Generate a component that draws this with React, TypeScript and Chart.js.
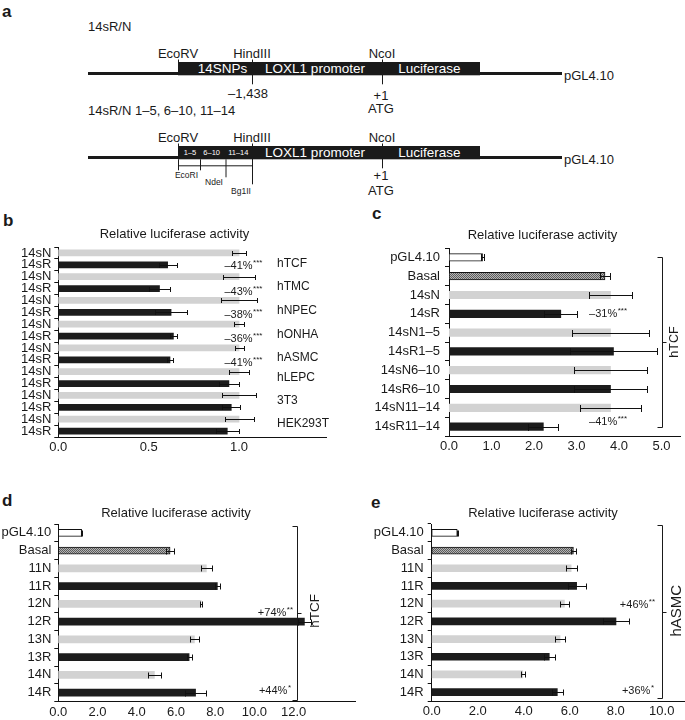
import React, { useEffect, useRef } from 'react';
import { Chart, registerables } from 'chart.js';

Chart.register(...registerables);

const FONT = "'Liberation Sans', Arial, Helvetica, sans-serif";
const INK = '#1a1a1a';
const GRAY = '#d2d2d2';
const BLACK = '#1c1c1c';

type Kind = 'empty' | 'basal' | 'N' | 'R';

// ---------------- Panel b data ----------------
const bCategories = ['14sN', '14sR', '14sN', '14sR', '14sN', '14sR', '14sN', '14sR', '14sN', '14sR', '14sN', '14sR', '14sN', '14sR', '14sN', '14sR'];
const bKinds: Kind[] = ['N', 'R', 'N', 'R', 'N', 'R', 'N', 'R', 'N', 'R', 'N', 'R', 'N', 'R', 'N', 'R'];
const bValues = [1.0, 0.605, 1.0, 0.56, 1.0, 0.624, 1.0, 0.637, 1.0, 0.618, 1.0, 0.944, 1.0, 0.957, 1.0, 0.935];
const bErrors = [0.037, 0.05, 0.09, 0.06, 0.1, 0.09, 0.03, 0.02, 0.025, 0.015, 0.055, 0.055, 0.095, 0.05, 0.08, 0.065];
const bCells = ['hTCF', 'hTMC', 'hNPEC', 'hONHA', 'hASMC', 'hLEPC', '3T3', 'HEK293T'];
const bChanges = ['–41%', '–43%', '–38%', '–36%', '–41%'];
const bStars = ['***', '***', '***', '***', '***'];
const bTicks = [0, 0.5, 1.0];

// ---------------- Panel c data ----------------
const cCategories = ['pGL4.10', 'Basal', '14sN', '14sR', '14sN1–5', '14sR1–5', '14sN6–10', '14sR6–10', '14sN11–14', '14sR11–14'];
const cKinds: Kind[] = ['empty', 'basal', 'N', 'R', 'N', 'R', 'N', 'R', 'N', 'R'];
const cValues = [0.79, 3.67, 3.8, 2.63, 3.8, 3.87, 3.8, 3.8, 3.8, 2.22];
const cErrors = [0.03, 0.11, 0.5, 0.39, 0.9, 1.02, 0.87, 0.86, 0.72, 0.35];
const cChanges = ['–31%', '–41%'];
const cStars = ['***', '***'];
const cTicks = [0, 1, 2, 3, 4, 5];

// ---------------- Panel d data ----------------
const dCategories = ['pGL4.10', 'Basal', '11N', '11R', '12N', '12R', '13N', '13R', '14N', '14R'];
const dKinds: Kind[] = ['empty', 'basal', 'N', 'R', 'N', 'R', 'N', 'R', 'N', 'R'];
const dValues = [1.19, 5.7, 7.55, 8.11, 7.28, 12.55, 6.94, 6.67, 4.9, 7.0];
const dErrors = [0.03, 0.2, 0.29, 0.14, 0.05, 0.35, 0.21, 0.13, 0.34, 0.52];
const dChanges = ['+74%', '+44%'];
const dStars = ['**', '*'];
const dTicks = [0, 2, 4, 6, 8, 10, 12];

// ---------------- Panel e data ----------------
const eCategories = ['pGL4.10', 'Basal', '11N', '11R', '12N', '12R', '13N', '13R', '14N', '14R'];
const eKinds: Kind[] = ['empty', 'basal', 'N', 'R', 'N', 'R', 'N', 'R', 'N', 'R'];
const eValues = [1.11, 6.16, 6.06, 6.3, 5.77, 8.01, 5.58, 5.11, 3.96, 5.46];
const eErrors = [0.03, 0.11, 0.24, 0.39, 0.18, 0.57, 0.22, 0.25, 0.1, 0.23];
const eChanges = ['+46%', '+36%'];
const eStars = ['**', '*'];
const eTicks = [0, 2, 4, 6, 8, 10];

const TITLE = 'Relative luciferase activity';

// ---------------- helpers ----------------
function basalPattern(): CanvasPattern | string {
  const c = document.createElement('canvas');
  c.width = 2;
  c.height = 2;
  const g = c.getContext('2d');
  if (!g) return '#8a8a8a';
  g.fillStyle = '#b4b4b4';
  g.fillRect(0, 0, 2, 2);
  g.fillStyle = '#5c5c5c';
  g.fillRect(0, 0, 1, 1);
  g.fillRect(1, 1, 1, 1);
  const ctx = document.createElement('canvas').getContext('2d');
  return (ctx && ctx.createPattern(c, 'repeat')) || '#8a8a8a';
}

function drawChange(ctx: CanvasRenderingContext2D, text: string, stars: string, x: number, y: number, align: 'left' | 'right') {
  ctx.save();
  ctx.fillStyle = INK;
  ctx.textBaseline = 'middle';
  ctx.textAlign = 'left';
  ctx.font = `11px ${FONT}`;
  const w1 = ctx.measureText(text).width;
  ctx.font = `8px ${FONT}`;
  const w2 = ctx.measureText(stars).width;
  const x0 = align === 'left' ? x : x - w1 - w2 - 0.5;
  ctx.font = `11px ${FONT}`;
  ctx.fillText(text, x0, y);
  ctx.font = `8px ${FONT}`;
  ctx.fillText(stars, x0 + w1 + 0.5, y - 3);
  ctx.restore();
}

function drawBracket(ctx: CanvasRenderingContext2D, x: number, y1: number, y2: number, ymid: number, label: string, lx: number, ly: number, size: number) {
  ctx.save();
  ctx.strokeStyle = INK;
  ctx.lineWidth = 1;
  const X = Math.round(x) + 0.5;
  ctx.beginPath();
  ctx.moveTo(X - 5, Math.round(y1) + 0.5);
  ctx.lineTo(X, Math.round(y1) + 0.5);
  ctx.lineTo(X, Math.round(y2) + 0.5);
  ctx.lineTo(X - 5, Math.round(y2) + 0.5);
  ctx.moveTo(X, Math.round(ymid) + 0.5);
  ctx.lineTo(X + 4, Math.round(ymid) + 0.5);
  ctx.stroke();
  ctx.translate(lx, ly);
  ctx.rotate(-Math.PI / 2);
  ctx.fillStyle = INK;
  ctx.font = `${size}px ${FONT}`;
  ctx.textAlign = 'center';
  ctx.textBaseline = 'middle';
  ctx.fillText(label, 0, 0);
  ctx.restore();
}

interface PanelSpec {
  left: number;
  top: number;
  width: number;
  height: number;
  area: { left: number; right: number; top: number; bottom: number };
  labels: string[];
  kinds: Kind[];
  values: number[];
  errors: number[];
  xMax: number;
  xTicks: number[];
  barThickness: number;
  cap: number;
  titleX: number;
  titleY: number;
  labelPad: number;
  decorate: (chart: any, ctx: CanvasRenderingContext2D) => void;
}

function BarPanel({ spec }: { spec: PanelSpec }) {
  const ref = useRef<HTMLCanvasElement | null>(null);
  useEffect(() => {
    const canvas = ref.current;
    if (!canvas) return;
    const pattern = basalPattern();
    const xAxisH = 18;
    const fills = spec.kinds.map((k) => (k === 'empty' ? '#ffffff' : k === 'basal' ? pattern : k === 'N' ? GRAY : BLACK));
    const borders = spec.kinds.map((k) => (k === 'empty' || k === 'basal' ? '#111111' : 'rgba(0,0,0,0)'));
    const bw = spec.kinds.map((k) => (k === 'empty' || k === 'basal' ? 1 : 0));

    const errorPlugin = {
      id: 'errbars',
      afterDatasetsDraw(chart: any) {
        const ctx: CanvasRenderingContext2D = chart.ctx;
        const meta = chart.getDatasetMeta(0);
        const xs = chart.scales.x;
        ctx.save();
        ctx.strokeStyle = '#111';
        ctx.lineWidth = 1;
        meta.data.forEach((bar: any, i: number) => {
          const v = spec.values[i];
          const e = spec.errors[i];
          if (!e) return;
          const y = Math.round(bar.y) + 0.5;
          const x1 = Math.round(xs.getPixelForValue(v - e)) + 0.5;
          const x2 = Math.round(xs.getPixelForValue(v + e)) + 0.5;
          ctx.beginPath();
          ctx.moveTo(x1, y);
          ctx.lineTo(x2, y);
          ctx.moveTo(x1, y - spec.cap);
          ctx.lineTo(x1, y + spec.cap);
          ctx.moveTo(x2, y - spec.cap);
          ctx.lineTo(x2, y + spec.cap);
          ctx.stroke();
        });
        ctx.restore();
      },
      afterDraw(chart: any) {
        const ctx: CanvasRenderingContext2D = chart.ctx;
        ctx.save();
        ctx.fillStyle = INK;
        ctx.font = `13px ${FONT}`;
        ctx.textAlign = 'center';
        ctx.textBaseline = 'middle';
        ctx.fillText(TITLE, spec.titleX, spec.titleY);
        ctx.restore();
        spec.decorate(chart, ctx);
      },
    };

    const chart = new Chart(canvas, {
      type: 'bar',
      data: {
        labels: spec.labels,
        datasets: [
          {
            data: spec.values,
            backgroundColor: fills as any,
            borderColor: borders,
            borderWidth: bw,
            borderSkipped: false,
            barThickness: spec.barThickness,
          },
        ],
      },
      options: {
        indexAxis: 'y',
        responsive: false,
        maintainAspectRatio: false,
        animation: false,
        events: [],
        layout: {
          padding: {
            left: 0,
            top: spec.area.top,
            right: spec.width - spec.area.right,
            bottom: spec.height - spec.area.bottom - xAxisH,
          },
        },
        plugins: { legend: { display: false }, tooltip: { enabled: false }, title: { display: false } },
        scales: {
          x: {
            type: 'linear',
            min: 0,
            max: spec.xMax,
            afterFit: (s: any) => {
              s.height = xAxisH;
            },
            afterBuildTicks: (s: any) => {
              s.ticks = spec.xTicks.map((v) => ({ value: v }));
            },
            grid: { display: false, drawTicks: false, tickLength: 0 },
            border: { display: true, color: '#111', width: 1 },
            ticks: {
              color: INK,
              font: { family: FONT, size: 13 },
              padding: 3,
              maxRotation: 0,
              autoSkip: false,
              callback: (v: any) => Number(v).toFixed(1),
            },
          },
          y: {
            type: 'category',
            afterFit: (s: any) => {
              s.width = spec.area.left;
            },
            grid: {
              display: true,
              drawOnChartArea: false,
              drawTicks: true,
              tickLength: 4,
              offset: true,
              color: '#111',
              lineWidth: 1,
            },
            border: { display: true, color: '#111', width: 1 },
            ticks: {
              color: INK,
              font: { family: FONT, size: 13 },
              padding: spec.labelPad,
              autoSkip: false,
            },
          },
        },
      } as any,
      plugins: [errorPlugin],
    });
    return () => chart.destroy();
  }, [spec]);
  return (
    <canvas
      ref={ref}
      width={spec.width}
      height={spec.height}
      style={{ position: 'absolute', left: spec.left, top: spec.top, width: spec.width, height: spec.height }}
    />
  );
}

// ---------------- panel specs ----------------
const bCellRows = [0.94, 2.88, 4.86, 6.86, 8.86, 10.53, 12.47, 14.37];
const bChangeRows = [1.0, 3.18, 5.14, 7.14, 9.14];

const specB: PanelSpec = {
  left: 0, top: 200, width: 340, height: 260,
  area: { left: 58.3, right: 326.7, top: 47, bottom: 237 },
  labels: bCategories, kinds: bKinds, values: bValues, errors: bErrors,
  xMax: 1.485, xTicks: bTicks, barThickness: 6, cap: 2.5,
  titleX: 174.5, titleY: 34.7, labelPad: 3,
  decorate: (chart, ctx) => {
    const ys = chart.scales.y;
    ctx.save();
    ctx.fillStyle = INK;
    ctx.font = `12px ${FONT}`;
    ctx.textAlign = 'left';
    ctx.textBaseline = 'middle';
    bCells.forEach((c, i) => ctx.fillText(c, 277, ys.getPixelForValue(bCellRows[i])));
    ctx.restore();
    bChanges.forEach((t, i) => drawChange(ctx, t, bStars[i], 224.4, ys.getPixelForValue(bChangeRows[i]) + 1, 'left'));
  },
};

const specC: PanelSpec = {
  left: 340, top: 200, width: 345, height: 260,
  area: { left: 109, right: 340, top: 48, bottom: 236 },
  labels: cCategories, kinds: cKinds, values: cValues, errors: cErrors,
  xMax: 5.435, xTicks: cTicks, barThickness: 7.5, cap: 3.5,
  titleX: 202.5, titleY: 35, labelPad: 5,
  decorate: (chart, ctx) => {
    const ys = chart.scales.y;
    drawChange(ctx, cChanges[0], cStars[0], 287, ys.getPixelForValue(3), 'right');
    drawChange(ctx, cChanges[1], cStars[1], 287, ys.getPixelForValue(8.74), 'right');
    drawBracket(ctx, 321.7, ys.getPixelForValue(0), ys.getPixelForValue(9), ys.getPixelForValue(4.5), 'hTCF', 335, ys.getPixelForValue(4.5), 12.5);
  },
};

const specD: PanelSpec = {
  left: 0, top: 460, width: 360, height: 260,
  area: { left: 58.3, right: 355, top: 64, bottom: 241.5 },
  labels: dCategories, kinds: dKinds, values: dValues, errors: dErrors,
  xMax: 15.13, xTicks: dTicks, barThickness: 7, cap: 3,
  titleX: 176, titleY: 53.3, labelPad: 3,
  decorate: (chart, ctx) => {
    const ys = chart.scales.y;
    drawChange(ctx, dChanges[0], dStars[0], 293, ys.getPixelForValue(4.5), 'right');
    drawChange(ctx, dChanges[1], dStars[1], 291, ys.getPixelForValue(8.92), 'right');
    drawBracket(ctx, 296.7, ys.getPixelForValue(-0.4), ys.getPixelForValue(9.4), ys.getPixelForValue(4.5), 'hTCF', 315, ys.getPixelForValue(4.4), 13.5);
  },
};

const specE: PanelSpec = {
  left: 360, top: 460, width: 325, height: 260,
  area: { left: 71.7, right: 325, top: 64, bottom: 241 },
  labels: eCategories, kinds: eKinds, values: eValues, errors: eErrors,
  xMax: 11.01, xTicks: eTicks, barThickness: 7, cap: 3,
  titleX: 183, titleY: 53.3, labelPad: 4,
  decorate: (chart, ctx) => {
    const ys = chart.scales.y;
    drawChange(ctx, eChanges[0], eStars[0], 295, ys.getPixelForValue(4.05), 'right');
    drawChange(ctx, eChanges[1], eStars[1], 294, ys.getPixelForValue(8.95), 'right');
    drawBracket(ctx, 301.7, ys.getPixelForValue(-0.45), ys.getPixelForValue(9.35), ys.getPixelForValue(4.49), 'hASMC', 316.7, ys.getPixelForValue(4.4), 15);
  },
};

// ---------------- Panel a (schematic) ----------------
const siteNames = ['EcoRV', 'HindIII', 'NcoI'];
const subRegions = ['1–5', '6–10', '11–14'];
const subSites = ['EcoRI', 'NdeI', 'Bg1II'];

function Construct({ y, title, sub }: { y: number; title: string; sub: boolean }) {
  const boxTop = y;
  const boxH = 13.3;
  const boxB = boxTop + boxH;
  const siteX = [178, 252, 382];
  const lab = boxTop - 4;
  return (
    <g>
      <text x={88} y={boxTop - 31} fontSize={13}>{title}</text>
      {siteNames.map((s, i) => (
        <text key={s} x={siteX[i]} y={lab} fontSize={13} textAnchor="middle">{s}</text>
      ))}
      <line x1={88} x2={562} y1={boxB - 1.8} y2={boxB - 1.8} stroke={INK} strokeWidth={2.8} />
      <line x1={178.5} x2={178.5} y1={boxTop - 2.5} y2={boxTop} stroke={INK} strokeWidth={1} />
      <line x1={252.5} x2={252.5} y1={boxTop - 2.5} y2={sub ? boxB + 25 : boxB + 9} stroke={INK} strokeWidth={1} />
      <line x1={382.5} x2={382.5} y1={boxTop - 2.5} y2={boxB + 9} stroke={INK} strokeWidth={1} />
      <rect x={178} y={boxTop} width={302} height={boxH} fill={INK} />
      {!sub && <text x={222.5} y={boxB - 2.2} fontSize={13.5} fill="#fff" textAnchor="middle">14SNPs</text>}
      {sub &&
        subRegions.map((s, i) => (
          <text key={s} x={[190, 211.7, 238.3][i]} y={boxB - 4} fontSize={7.5} fill="#fff" textAnchor="middle">{s}</text>
        ))}
      <text x={315} y={boxB - 2.2} fontSize={13.5} fill="#fff" textAnchor="middle">LOXL1 promoter</text>
      <text x={429.5} y={boxB - 2.2} fontSize={13.5} fill="#fff" textAnchor="middle">Luciferase</text>
      <text x={564} y={boxB + 5} fontSize={13}>pGL4.10</text>
      {!sub && <text x={248} y={boxB + 23} fontSize={13} textAnchor="middle">–1,438</text>}
      <text x={381} y={boxB + (sub ? 21 : 25)} fontSize={13} textAnchor="middle">+1</text>
      <text x={381} y={boxB + (sub ? 36 : 38)} fontSize={13} textAnchor="middle">ATG</text>
      {sub && (
        <g>
          <line x1={178} x2={252.5} y1={boxB + 6.5} y2={boxB + 6.5} stroke={INK} strokeWidth={1} />
          <line x1={178.5} x2={178.5} y1={boxB} y2={boxB + 11} stroke={INK} strokeWidth={1} />
          <line x1={200.5} x2={200.5} y1={boxB} y2={boxB + 11} stroke={INK} strokeWidth={1} />
          <line x1={226} x2={226} y1={boxB} y2={boxB + 18} stroke={INK} strokeWidth={1} />
          {subSites.map((s, i) => (
            <text key={s} x={[186.5, 214, 241][i]} y={boxB + [19, 26, 35][i]} fontSize={8.5} textAnchor="middle">{s}</text>
          ))}
        </g>
      )}
    </g>
  );
}

function Overlay() {
  return (
    <svg width={685} height={720} style={{ position: 'absolute', left: 0, top: 0 }} fontFamily={FONT} fill={INK}>
      <Construct y={62} title="14sR/N" sub={false} />
      <Construct y={146} title="14sR/N 1–5, 6–10, 11–14" sub={true} />
      <g fontWeight="bold" fontSize={17}>
        <text x={2} y={17}>a</text>
        <text x={3} y={226}>b</text>
        <text x={372} y={219}>c</text>
        <text x={2} y={506}>d</text>
        <text x={371} y={508}>e</text>
      </g>
    </svg>
  );
}

export default function App() {
  return (
    <div style={{ position: 'absolute', left: 0, top: 0, width: 685, height: 720, background: '#fff', overflow: 'hidden' }}>
      <Overlay />
      <BarPanel spec={specB} />
      <BarPanel spec={specC} />
      <BarPanel spec={specD} />
      <BarPanel spec={specE} />
    </div>
  );
}
